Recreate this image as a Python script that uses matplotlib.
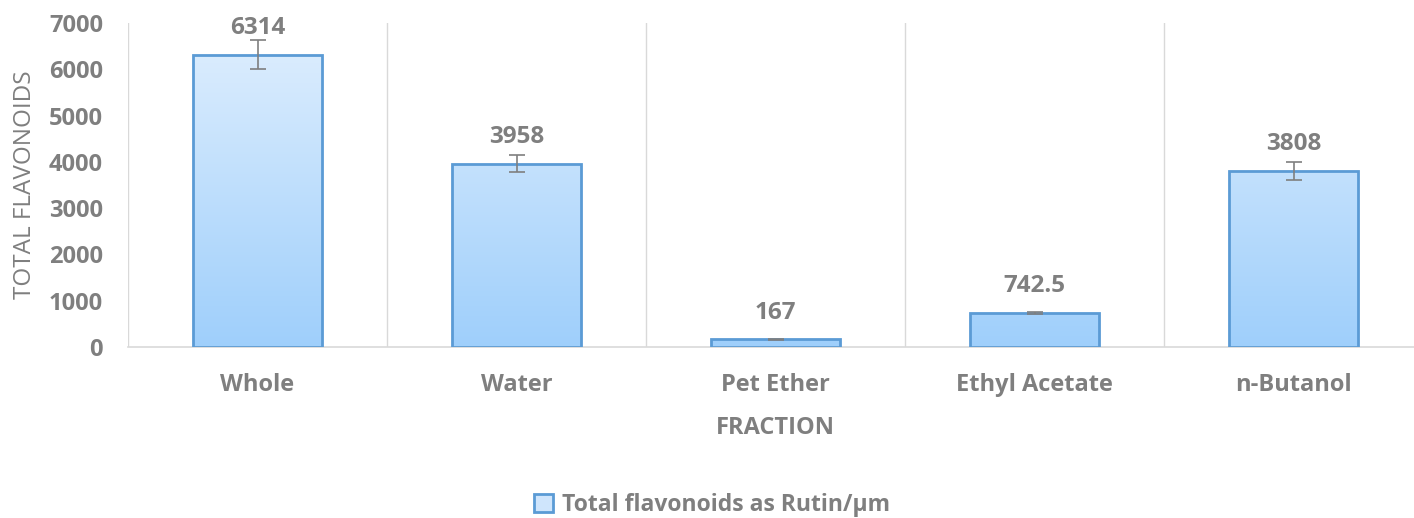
import numpy as np
import matplotlib
matplotlib.use("Agg")
import matplotlib.pyplot as plt
from matplotlib.patches import Rectangle
from matplotlib.colors import LinearSegmentedColormap

# Data
fractions = ["Whole", "Water", "Pet Ether", "Ethyl Acetate", "n-Butanol"]
flavonoids = [6314, 3958, 167, 742.5, 3808]
errors = [315, 185, 12, 20, 190]
value_labels = ["6314", "3958", "167", "742.5", "3808"]

grey = "#7f7f7f"
plt.rcParams["font.family"] = ["Open Sans", "DejaVu Sans"]

fig = plt.figure(figsize=(14.14, 5.18), dpi=100)
ax = fig.add_axes([128 / 1414, 1 - 347 / 518, (1423 - 128) / 1414, (347 - 23) / 518])

x = np.arange(len(fractions))
bars = ax.bar(x, flavonoids, width=0.5, facecolor="none", edgecolor="#5b9bd5",
              linewidth=2, zorder=3, label="Total flavonoids as Rutin/µm")

# gradient fill clipped to each bar
cmap = LinearSegmentedColormap.from_list("bluegrad", ["#9fcffb", "#e0effe"])
grad = np.linspace(0, 1, 256).reshape(-1, 1)
for b in bars:
    im = ax.imshow(grad, cmap=cmap, origin="lower", aspect="auto",
                   extent=[b.get_x(), b.get_x() + b.get_width(), 0, 7000], zorder=2)
    im.set_clip_path(b)

ax.errorbar(x, flavonoids, yerr=errors, fmt="none", ecolor=grey, elinewidth=1.2,
            capsize=5.5, capthick=1.2, zorder=4)

for xi, v, lab in zip(x, flavonoids, value_labels):
    ax.annotate(lab, (xi, v), xytext=(0, 19), textcoords="offset points",
                ha="center", va="center", fontsize=17.5, fontweight="bold",
                color=grey, annotation_clip=False)

ax.set_xlim(-0.5, len(fractions) - 0.5)
ax.set_ylim(0, 7000)
ax.set_yticks(range(0, 7001, 1000))
ax.set_xticks(x)
ax.set_xticklabels(fractions)

# vertical category separators
for sep in np.arange(-0.5, len(fractions) - 0.5):
    ax.axvline(sep, color="#d9d9d9", linewidth=1, zorder=1)

for s in ["top", "right", "left"]:
    ax.spines[s].set_visible(False)
ax.spines["bottom"].set_color("#d9d9d9")
ax.spines["bottom"].set_linewidth(1.2)

ax.tick_params(axis="y", length=0, pad=18, labelsize=17, labelcolor=grey)
ax.tick_params(axis="x", length=0, pad=18.5, labelsize=17, labelcolor=grey)
for t in ax.get_xticklabels() + ax.get_yticklabels():
    t.set_fontweight("bold")

ax.set_ylabel("TOTAL FLAVONOIDS", fontsize=17.5, color=grey)
ax.set_xlabel("FRACTION", fontsize=17, color=grey, fontweight="bold")
ax.xaxis.set_label_coords((775 - 128) / (1423 - 128), -(416 - 347) / (347 - 23))
ax.yaxis.set_label_coords(-(128 - 37) / (1423 - 128), 0.5)

handle = Rectangle((0, 0), 1, 1, facecolor="#cfe5fc", edgecolor="#5b9bd5", linewidth=2)
fig.legend([handle], ["Total flavonoids as Rutin/µm"], loc="center",
           bbox_to_anchor=(712 / 1414, 1 - 505 / 518), frameon=False,
           prop={"size": 16.5, "weight": "bold"}, labelcolor=grey,
           handlelength=0.8, handleheight=0.8, handletextpad=0.4)

fig.savefig("out.png", dpi=100)
